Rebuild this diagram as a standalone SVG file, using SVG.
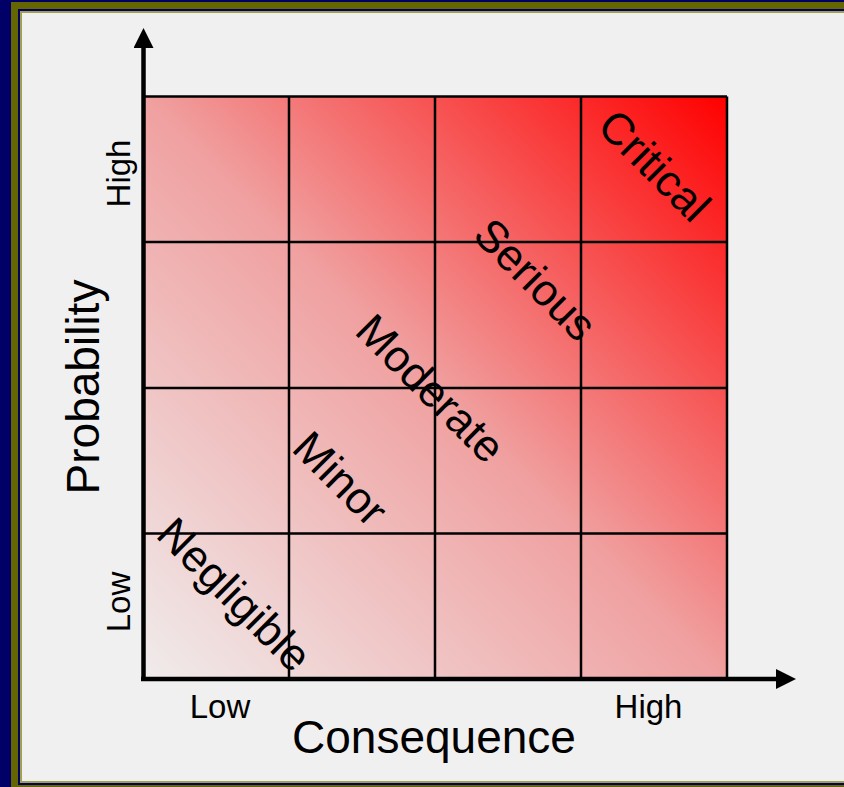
<svg xmlns="http://www.w3.org/2000/svg" width="844" height="787" viewBox="0 0 844 787">
  <defs>
    <linearGradient id="risk" gradientUnits="userSpaceOnUse" x1="143" y1="679" x2="727" y2="97">
      <stop offset="0" stop-color="#f0ecec"/>
      <stop offset="0.5" stop-color="#f0a0a0"/>
      <stop offset="1" stop-color="#ff0000"/>
    </linearGradient>
    <marker id="arrow" viewBox="0 0 20 20" refX="0" refY="10" markerWidth="20" markerHeight="20" markerUnits="userSpaceOnUse" orient="auto">
      <path d="M0,0 L20,10 L0,20 Z" fill="#000"/>
    </marker>
  </defs>
  <style>
    text { font-family: "Liberation Sans", Arial, sans-serif; fill: #000; }
    .big { font-size: 46px; }
    .tick { font-size: 33px; }
    .diag { font-size: 44.5px; }
    .grid { stroke: #000; stroke-width: 2.5; fill: none; }
    .axis { stroke: #000; stroke-width: 4.5; fill: none; }
  </style>
  <g id="frame">
    <rect x="0" y="0" width="844" height="787" fill="#000066"/>
    <rect x="11" y="2" width="900" height="900" fill="#666600"/>
    <rect x="18" y="9" width="900" height="776" fill="#000066"/>
    <rect x="20" y="11" width="900" height="772" fill="#a0a050"/>
    <rect x="22" y="13" width="900" height="768" fill="#f0f0f0"/>
  </g>
  <g id="matrix">
    <rect x="143" y="96.5" width="584" height="582.5" fill="url(#risk)"/>
    <path class="grid" d="M289,96.5 V679 M435,96.5 V679 M581,96.5 V679 M727,96.5 V679 M143,96.5 H727 M143,242 H727 M143,388 H727 M143,533.5 H727"/>
  </g>
  <g id="connectors">
    <line class="axis" x1="143.5" y1="681" x2="143.5" y2="48" marker-end="url(#arrow)"/>
    <line class="axis" x1="141" y1="679" x2="776" y2="679" marker-end="url(#arrow)"/>
  </g>
  <g id="labels">
    <text class="diag" text-anchor="middle" transform="translate(655,165) rotate(45)" y="16">Critical</text>
    <text class="diag" text-anchor="middle" transform="translate(536,279) rotate(45)" y="16">Serious</text>
    <text class="diag" text-anchor="middle" transform="translate(431,388) rotate(45)" y="16">Moderate</text>
    <text class="diag" text-anchor="middle" transform="translate(341,478) rotate(45)" y="16">Minor</text>
    <text class="diag" text-anchor="middle" transform="translate(235,594) rotate(45)" y="16">Negligible</text>
  </g>
  <g id="axis-labels">
    <text class="big" text-anchor="middle" transform="translate(99,387) rotate(-90)">Probability</text>
    <text class="tick" text-anchor="middle" transform="translate(130,173.5) rotate(-90)">High</text>
    <text class="tick" text-anchor="middle" transform="translate(130,602) rotate(-90)">Low</text>
    <text class="tick" text-anchor="middle" x="220" y="718">Low</text>
    <text class="tick" text-anchor="middle" x="648.5" y="718">High</text>
    <text class="big" text-anchor="middle" x="434" y="753">Consequence</text>
  </g>
</svg>
